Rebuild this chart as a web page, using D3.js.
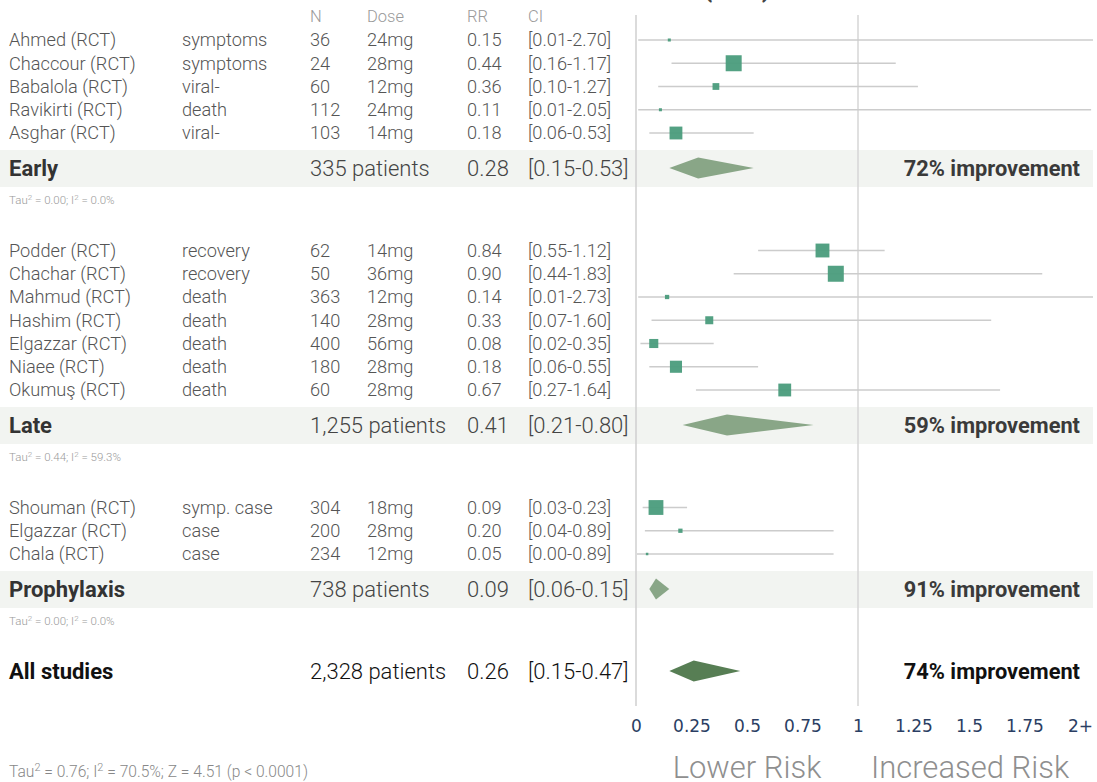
<!DOCTYPE html>
<html>
<head>
<meta charset="utf-8">
<script src="https://cdn.jsdelivr.net/npm/d3@7"></script>
<style>
  html, body { margin: 0; padding: 0; background: #fff; }
  svg { display: block; font-family: Roboto, "Noto Sans", sans-serif; }
</style>
</head>
<body>
<svg id="chart" width="1097" height="782"></svg>
<script>
// ---------- DATA ----------
const headers = ["N", "Dose", "RR", "CI"];

const earlyStudies  = ["Ahmed (RCT)", "Chaccour (RCT)", "Babalola (RCT)", "Ravikirti (RCT)", "Asghar (RCT)"];
const earlyOutcomes = ["symptoms", "symptoms", "viral-", "death", "viral-"];
const earlyN        = [36, 24, 60, 112, 103];
const earlyDose     = ["24mg", "28mg", "12mg", "24mg", "14mg"];
const earlyRR       = [0.15, 0.44, 0.36, 0.11, 0.18];
const earlyLo       = [0.01, 0.16, 0.10, 0.01, 0.06];
const earlyHi       = [2.70, 1.17, 1.27, 2.05, 0.53];
const earlyWeight   = [1, 28, 5, 1, 18];

const lateStudies  = ["Podder (RCT)", "Chachar (RCT)", "Mahmud (RCT)", "Hashim (RCT)", "Elgazzar (RCT)", "Niaee (RCT)", "Okumuş (RCT)"];
const lateOutcomes = ["recovery", "recovery", "death", "death", "death", "death", "death"];
const lateN        = [62, 50, 363, 140, 400, 180, 60];
const lateDose     = ["14mg", "36mg", "12mg", "28mg", "56mg", "28mg", "28mg"];
const lateRR       = [0.84, 0.90, 0.14, 0.33, 0.08, 0.18, 0.67];
const lateLo       = [0.55, 0.44, 0.01, 0.07, 0.02, 0.06, 0.27];
const lateHi       = [1.12, 1.83, 2.73, 1.60, 0.35, 0.55, 1.64];
const lateWeight   = [21, 28, 2, 7, 9, 16, 18];

const prophStudies  = ["Shouman (RCT)", "Elgazzar (RCT)", "Chala (RCT)"];
const prophOutcomes = ["symp. case", "case", "case"];
const prophN        = [304, 200, 234];
const prophDose     = ["18mg", "28mg", "12mg"];
const prophRR       = [0.09, 0.20, 0.05];
const prophLo       = [0.03, 0.04, 0.00];
const prophHi       = [0.23, 0.89, 0.89];
const prophWeight   = [24, 2, 0.6];

const groupNames    = ["Early", "Late", "Prophylaxis", "All studies"];
const groupPatients = ["335 patients", "1,255 patients", "738 patients", "2,328 patients"];
const groupRR       = [0.28, 0.41, 0.09, 0.26];
const groupLo       = [0.15, 0.21, 0.06, 0.15];
const groupHi       = [0.53, 0.80, 0.15, 0.47];
const groupImprove  = ["72% improvement", "59% improvement", "91% improvement", "74% improvement"];
const groupTau      = [["0.00", "0.0%"], ["0.44", "59.3%"], ["0.00", "0.0%"]];
const overallStats  = { tau: "0.76", i2: "70.5%", z: "4.51", p: "p < 0.0001" };

const tickValues = [0, 0.25, 0.5, 0.75, 1, 1.25, 1.5, 1.75, 2];
const tickLabels = ["0", "0.25", "0.5", "0.75", "1", "1.25", "1.5", "1.75", "2+"];
const sideLabels = ["Lower Risk", "Increased Risk"];

// ---------- LAYOUT ----------
const svg = d3.select("#chart");
const x = d3.scaleLinear().domain([0, 2]).range([636, 1080]);
const xMaxClip = 1093;
const size = d3.scaleSqrt().domain([0, 28]).range([0, 16]);

const COL = { name: 9, outcome: 182, n: 310, dose: 367, rr: 467, ci: 528 };
const fmt2 = d3.format(".2f");

const groups = [
  { studies: earlyStudies, outcomes: earlyOutcomes, n: earlyN, dose: earlyDose, rr: earlyRR, lo: earlyLo, hi: earlyHi, w: earlyWeight },
  { studies: lateStudies, outcomes: lateOutcomes, n: lateN, dose: lateDose, rr: lateRR, lo: lateLo, hi: lateHi, w: lateWeight },
  { studies: prophStudies, outcomes: prophOutcomes, n: prophN, dose: prophDose, rr: prophRR, lo: prophLo, hi: prophHi, w: prophWeight }
];

const ROW = 23.25;
let y = 40;
const studyRows = [];
const groupRows = [];
groups.forEach((g, gi) => {
  g.studies.forEach((s, i) => {
    studyRows.push({ name: s, outcome: g.outcomes[i], n: g.n[i], dose: g.dose[i], rr: g.rr[i], lo: g.lo[i], hi: g.hi[i], w: g.w[i], y: y });
    if (i < g.studies.length - 1) y += ROW;
  });
  y += 35;
  groupRows.push({ gi: gi, y: y });
  y += 82.5;
});
groupRows.push({ gi: 3, y: groupRows[2].y + 82 });

// title (mostly above the visible area)
svg.append("text").attr("x", 771).attr("y", -3).attr("text-anchor", "end")
  .attr("font-size", 26).attr("font-weight", 700).attr("fill", "#444")
  .text("Ivermectin (RCT)");

// bands
svg.selectAll("rect.band").data(groupRows.slice(0, 3)).join("rect")
  .attr("class", "band").attr("x", 0).attr("width", xMaxClip)
  .attr("y", d => d.y - 18).attr("height", 37).attr("fill", "#f2f4f1");

// reference lines
[0, 1].forEach(v => {
  svg.append("line").attr("x1", x(v)).attr("x2", x(v)).attr("y1", 15).attr("y2", 706)
    .attr("stroke", v === 0 ? "#cfcfcf" : "#d6d6d6").attr("stroke-width", 1.5);
});

// headers
const headerX = [COL.n, COL.dose, COL.rr, COL.ci];
svg.selectAll("text.hdr").data(headers).join("text").attr("class", "hdr")
  .attr("x", (d, i) => headerX[i]).attr("y", 16).attr("dy", "0.35em")
  .attr("font-size", 16.5).attr("font-weight", 300).attr("fill", "#9a9a9a").text(d => d);

// study rows
const sr = svg.selectAll("g.study").data(studyRows).join("g").attr("class", "study");
const cols = [
  ["name", d => d.name], ["outcome", d => d.outcome], ["n", d => d.n],
  ["dose", d => d.dose], ["rr", d => fmt2(d.rr)], ["ci", d => `[${fmt2(d.lo)}-${fmt2(d.hi)}]`]
];
cols.forEach(([k, f]) => {
  sr.append("text").attr("x", COL[k]).attr("y", d => d.y).attr("dy", "0.35em")
    .attr("font-size", 18.2).attr("font-weight", 300).attr("fill", "#555").text(f);
});
sr.append("line")
  .attr("x1", d => Math.max(x(d.lo), 637)).attr("x2", d => Math.min(x(d.hi), xMaxClip))
  .attr("y1", d => d.y).attr("y2", d => d.y)
  .attr("stroke", "#cccccc").attr("stroke-width", 1.5);
sr.append("rect")
  .attr("x", d => x(d.rr) - Math.max(size(d.w), 2.5) / 2)
  .attr("y", d => d.y - Math.max(size(d.w), 2.5) / 2)
  .attr("width", d => Math.max(size(d.w), 2.5))
  .attr("height", d => Math.max(size(d.w), 2.5))
  .attr("fill", "#4a9c7c").attr("fill-opacity", 0.95);

// group rows
const gr = svg.selectAll("g.grp").data(groupRows).join("g").attr("class", "grp");
const gFill = d => d.gi === 3 ? "#111" : "#444";
gr.append("text").attr("x", COL.name).attr("y", d => d.y).attr("dy", "0.35em")
  .attr("font-size", 22).attr("font-weight", 700).attr("fill", d => d.gi === 3 ? "#111" : "#333")
  .text(d => groupNames[d.gi]);
gr.append("text").attr("x", COL.n).attr("y", d => d.y).attr("dy", "0.35em")
  .attr("font-size", 22).attr("font-weight", 300).attr("fill", gFill)
  .text(d => groupPatients[d.gi]);
gr.append("text").attr("x", COL.rr).attr("y", d => d.y).attr("dy", "0.35em")
  .attr("font-size", 22).attr("font-weight", 300).attr("fill", gFill)
  .text(d => fmt2(groupRR[d.gi]));
gr.append("text").attr("x", COL.ci).attr("y", d => d.y).attr("dy", "0.35em")
  .attr("font-size", 22).attr("font-weight", 300).attr("fill", gFill)
  .text(d => `[${fmt2(groupLo[d.gi])}-${fmt2(groupHi[d.gi])}]`);
gr.append("text").attr("x", 1080).attr("y", d => d.y).attr("dy", "0.35em").attr("text-anchor", "end")
  .attr("font-size", 21.8).attr("font-weight", 700).attr("fill", d => d.gi === 3 ? "#111" : "#3a3a3a")
  .text(d => groupImprove[d.gi]);
gr.append("polygon")
  .attr("points", d => {
    const h = 10.5, i = d.gi;
    return [[x(groupLo[i]), d.y], [x(groupRR[i]), d.y - h], [x(groupHi[i]), d.y], [x(groupRR[i]), d.y + h]]
      .map(p => p.join(",")).join(" ");
  })
  .attr("fill", d => d.gi === 3 ? "#577e54" : "#89a687");

// tau lines under subgroups
function tauText(sel, tau, i2, extra) {
  sel.append("tspan").text("Tau");
  sel.append("tspan").attr("baseline-shift", "super").attr("font-size", "70%").text("2");
  sel.append("tspan").text(` = ${tau}; I`);
  sel.append("tspan").attr("baseline-shift", "super").attr("font-size", "70%").text("2");
  sel.append("tspan").text(` = ${i2}` + (extra || ""));
}
groupRows.slice(0, 3).forEach(d => {
  const t = svg.append("text").attr("x", COL.name).attr("y", d.y + 36)
    .attr("font-size", 11.5).attr("font-weight", 300).attr("fill", "#9a9a9a");
  tauText(t, groupTau[d.gi][0], groupTau[d.gi][1]);
});
const ot = svg.append("text").attr("x", COL.name).attr("y", 777)
  .attr("font-size", 15.6).attr("font-weight", 300).attr("fill", "#888");
tauText(ot, overallStats.tau, overallStats.i2, `; Z = ${overallStats.z} (${overallStats.p})`);

// axis
const axis = d3.axisBottom(x).tickValues(tickValues).tickSize(0)
  .tickFormat((d, i) => tickLabels[i]);
const ax = svg.append("g").attr("transform", "translate(0,717)").call(axis);
ax.select(".domain").remove();
ax.selectAll("text").attr("font-family", "'DejaVu Sans', Verdana, sans-serif")
  .attr("font-size", 17).attr("fill", "#2b3e63").attr("dy", "0.71em");

// side labels
svg.append("text").attr("x", 747).attr("y", 778).attr("text-anchor", "middle")
  .attr("font-size", 31).attr("font-weight", 300).attr("fill", "#8f8f8f").text(sideLabels[0]);
svg.append("text").attr("x", 970).attr("y", 778).attr("text-anchor", "middle")
  .attr("font-size", 31).attr("font-weight", 300).attr("fill", "#8f8f8f").text(sideLabels[1]);
</script>
</body>
</html>
